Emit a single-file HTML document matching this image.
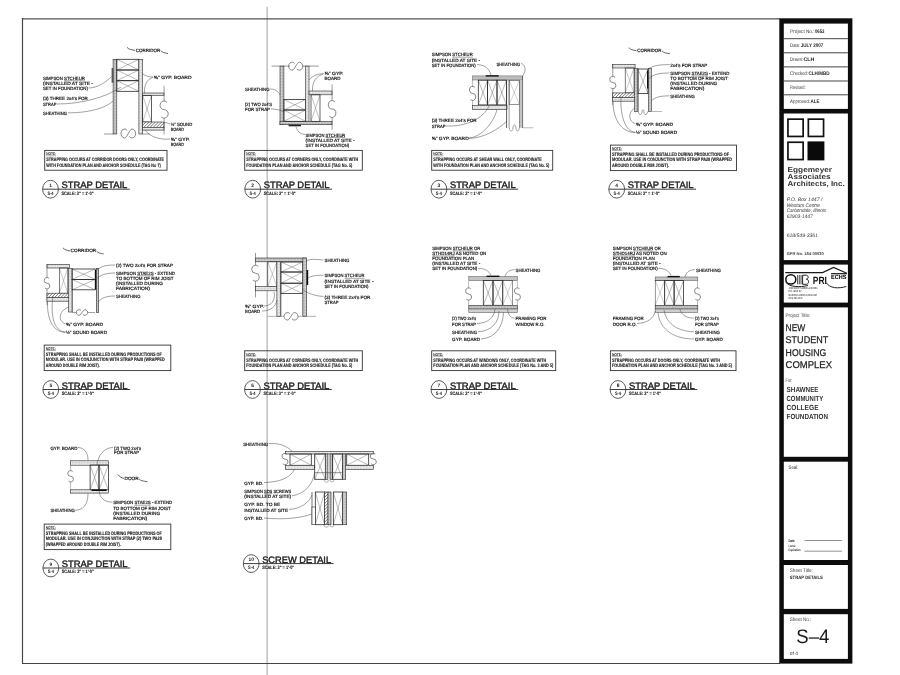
<!DOCTYPE html>
<html><head><meta charset="utf-8"><title>S-4 Strap Details</title>
<style>
html,body{margin:0;padding:0;background:#fff;}
body{width:900px;height:675px;overflow:hidden;font-family:"Liberation Sans",sans-serif;}
svg{display:block;filter:grayscale(1);}
text{font-family:"Liberation Sans",sans-serif;text-rendering:geometricPrecision;}
</style></head><body>
<svg width="900" height="675" viewBox="0 0 900 675">
<defs>
<pattern id="dots" width="1.5" height="1.5" patternUnits="userSpaceOnUse"><rect width="1.5" height="1.5" fill="#f4f4f4"/><rect x="0.2" y="0.2" width="0.9" height="0.9" fill="#6a6a6a"/></pattern>
<pattern id="ldots" width="1.5" height="1.5" patternUnits="userSpaceOnUse"><rect width="1.5" height="1.5" fill="#fafafa"/><rect x="0.2" y="0.2" width="0.8" height="0.8" fill="#a0a0a0"/></pattern>
<pattern id="diag" width="2.2" height="2.2" patternUnits="userSpaceOnUse" patternTransform="rotate(45)"><rect width="2.2" height="2.2" fill="#fff"/><rect width="0.7" height="2.2" fill="#707070"/></pattern>
</defs>
<rect width="900" height="675" fill="#fff"/>
<line x1="267.20" y1="7.00" x2="267.20" y2="675.00" stroke="#c4c4c4" stroke-width="1.6"/>
<line x1="22.00" y1="18.80" x2="780.00" y2="18.80" stroke="#505050" stroke-width="1.35"/>
<line x1="22.50" y1="18.00" x2="22.50" y2="664.00" stroke="#444" stroke-width="1.15"/>
<line x1="22.00" y1="663.50" x2="780.00" y2="663.50" stroke="#444" stroke-width="1.1"/>
<rect x="779.30" y="18.30" width="73.10" height="645.30" fill="#0d0d0d"/>
<rect x="783.80" y="23.60" width="64.10" height="85.30" fill="#fff"/>
<rect x="783.80" y="113.50" width="64.10" height="146.60" fill="#fff"/>
<rect x="783.80" y="264.60" width="64.10" height="38.00" fill="#fff"/>
<rect x="783.80" y="307.40" width="64.10" height="149.40" fill="#fff"/>
<rect x="783.80" y="461.70" width="64.10" height="98.30" fill="#fff"/>
<rect x="783.80" y="565.00" width="64.10" height="43.90" fill="#fff"/>
<rect x="783.80" y="614.20" width="64.10" height="44.70" fill="#fff"/>
<line x1="783.80" y1="38.70" x2="847.90" y2="38.70" stroke="#444" stroke-width="1.0"/>
<line x1="783.80" y1="52.80" x2="847.90" y2="52.80" stroke="#444" stroke-width="1.0"/>
<line x1="783.80" y1="66.90" x2="847.90" y2="66.90" stroke="#444" stroke-width="1.0"/>
<line x1="783.80" y1="81.00" x2="847.90" y2="81.00" stroke="#444" stroke-width="1.0"/>
<line x1="783.80" y1="94.80" x2="847.90" y2="94.80" stroke="#444" stroke-width="1.0"/>
<text x="790.10" y="32.85" font-size="5.2" font-weight="normal" font-style="normal" fill="#3a3a3a" text-anchor="start" textLength="24.50" lengthAdjust="spacingAndGlyphs">Project No.:</text>
<text x="814.90" y="32.85" font-size="5.2" font-weight="bold" font-style="normal" fill="#1e1e1e" text-anchor="start" textLength="9.60" lengthAdjust="spacingAndGlyphs">0653</text>
<text x="790.10" y="47.05" font-size="5.2" font-weight="normal" font-style="normal" fill="#3a3a3a" text-anchor="start" textLength="10.30" lengthAdjust="spacingAndGlyphs">Date:</text>
<text x="800.70" y="47.05" font-size="5.2" font-weight="bold" font-style="normal" fill="#1e1e1e" text-anchor="start" textLength="22.60" lengthAdjust="spacingAndGlyphs">JULY 2007</text>
<text x="790.10" y="61.35" font-size="5.2" font-weight="normal" font-style="normal" fill="#3a3a3a" text-anchor="start" textLength="13.00" lengthAdjust="spacingAndGlyphs">Drawn:</text>
<text x="803.40" y="61.35" font-size="5.2" font-weight="bold" font-style="normal" fill="#1e1e1e" text-anchor="start" textLength="11.00" lengthAdjust="spacingAndGlyphs">CLH</text>
<text x="790.10" y="75.35" font-size="5.2" font-weight="normal" font-style="normal" fill="#3a3a3a" text-anchor="start" textLength="18.00" lengthAdjust="spacingAndGlyphs">Checked:</text>
<text x="808.40" y="75.35" font-size="5.2" font-weight="bold" font-style="normal" fill="#1e1e1e" text-anchor="start" textLength="21.30" lengthAdjust="spacingAndGlyphs">CLH/MBD</text>
<text x="790.10" y="89.25" font-size="5.2" font-weight="normal" font-style="normal" fill="#3a3a3a" text-anchor="start" textLength="15.40" lengthAdjust="spacingAndGlyphs">Revised:</text>
<text x="790.10" y="103.45" font-size="5.2" font-weight="normal" font-style="normal" fill="#3a3a3a" text-anchor="start" textLength="20.00" lengthAdjust="spacingAndGlyphs">Approved:</text>
<text x="810.40" y="103.45" font-size="5.2" font-weight="bold" font-style="normal" fill="#1e1e1e" text-anchor="start" textLength="9.00" lengthAdjust="spacingAndGlyphs">ALE</text>
<rect x="787.95" y="119.15" width="15.20" height="17.30" fill="none" stroke="#111" stroke-width="1.7"/>
<rect x="808.35" y="119.15" width="15.20" height="17.30" fill="none" stroke="#111" stroke-width="1.7"/>
<rect x="787.95" y="142.25" width="15.20" height="17.30" fill="none" stroke="#111" stroke-width="1.7"/>
<rect x="807.50" y="141.40" width="16.90" height="19.00" fill="#0a0a0a"/>
<text x="787.60" y="171.90" font-size="7.3" font-weight="bold" font-style="normal" fill="#333" text-anchor="start" textLength="44.40" lengthAdjust="spacingAndGlyphs">Eggemeyer</text>
<text x="787.60" y="178.60" font-size="7.3" font-weight="bold" font-style="normal" fill="#333" text-anchor="start" textLength="43.00" lengthAdjust="spacingAndGlyphs">Associates</text>
<text x="787.60" y="185.60" font-size="7.3" font-weight="bold" font-style="normal" fill="#333" text-anchor="start" textLength="57.00" lengthAdjust="spacingAndGlyphs">Architects, Inc.</text>
<text x="786.70" y="200.90" font-size="5.0" font-weight="normal" font-style="italic" fill="#333" text-anchor="start" textLength="35.80" lengthAdjust="spacingAndGlyphs">P.O. Box 1447 /</text>
<text x="786.70" y="206.60" font-size="5.0" font-weight="normal" font-style="italic" fill="#333" text-anchor="start" textLength="33.30" lengthAdjust="spacingAndGlyphs">Westam Centre</text>
<text x="786.70" y="211.80" font-size="5.0" font-weight="normal" font-style="italic" fill="#333" text-anchor="start" textLength="39.50" lengthAdjust="spacingAndGlyphs">Carbondale, Illinois</text>
<text x="786.70" y="217.50" font-size="5.0" font-weight="normal" font-style="italic" fill="#333" text-anchor="start" textLength="26.00" lengthAdjust="spacingAndGlyphs">62903-1447</text>
<text x="786.70" y="237.20" font-size="5.0" font-weight="normal" font-style="italic" fill="#333" text-anchor="start" textLength="31.20" lengthAdjust="spacingAndGlyphs">618/549-3361</text>
<text x="786.70" y="255.10" font-size="4.2" font-weight="bold" font-style="normal" fill="#444" text-anchor="start" textLength="37.00" lengthAdjust="spacingAndGlyphs">GPR No.   184-00030</text>
<path d="M785.2 272.6 L822.6 272.6 L833.6 267.4 L846.8 273.3" fill="none" stroke="#1a1a1a" stroke-width="1.1"/>
<ellipse cx="790.8" cy="279.4" rx="5.0" ry="4.6" fill="none" stroke="#111" stroke-width="1.5"/>
<path d="M786 282.5 C789 287 800 287.5 808 285.5" fill="none" stroke="#222" stroke-width="1.0"/>
<line x1="797.60" y1="275.00" x2="797.60" y2="284.30" stroke="#222" stroke-width="0.8"/>
<line x1="799.30" y1="275.00" x2="799.30" y2="284.30" stroke="#222" stroke-width="0.8"/>
<line x1="801.00" y1="275.00" x2="801.00" y2="284.30" stroke="#222" stroke-width="0.8"/>
<path d="M802.6 284.3 L802.6 275.2 L806.3 275.2 C808.8 275.2 808.8 279.2 806.3 279.2 C809.3 279.2 809.3 284.3 806.3 284.3 Z" fill="none" stroke="#222" stroke-width="1.0"/>
<text x="812.80" y="284.00" font-size="10.5" font-weight="bold" font-style="normal" fill="#111" text-anchor="start" textLength="14.20" lengthAdjust="spacingAndGlyphs">PRI</text>
<path d="M826 282.5 C830 288.5 838 288.8 846.3 286.5" fill="none" stroke="#222" stroke-width="1.0"/>
<line x1="831.00" y1="273.70" x2="846.80" y2="273.70" stroke="#111" stroke-width="1.2"/>
<text x="831.00" y="279.40" font-size="6.0" font-weight="bold" font-style="normal" fill="#000" text-anchor="start" textLength="15.50" lengthAdjust="spacingAndGlyphs">ECHS</text>
<text x="788.50" y="289.20" font-size="2.9" font-weight="bold" font-style="normal" fill="#555" text-anchor="start" textLength="29.00" lengthAdjust="spacingAndGlyphs">JOHN MOODY PLUMBING &amp; HEATING</text>
<text x="788.50" y="292.35" font-size="2.9" font-weight="bold" font-style="normal" fill="#555" text-anchor="start" textLength="13.00" lengthAdjust="spacingAndGlyphs">P.O. BOX 87</text>
<text x="788.50" y="295.50" font-size="2.9" font-weight="bold" font-style="normal" fill="#555" text-anchor="start" textLength="28.50" lengthAdjust="spacingAndGlyphs">MARION ILLINOIS 62959-0087</text>
<text x="788.50" y="298.65" font-size="2.9" font-weight="bold" font-style="normal" fill="#555" text-anchor="start" textLength="13.90" lengthAdjust="spacingAndGlyphs">(618) 997-0440</text>
<text x="785.40" y="317.40" font-size="5.2" font-weight="normal" font-style="normal" fill="#444" text-anchor="start" textLength="25.00" lengthAdjust="spacingAndGlyphs">Project Title:</text>
<text x="785.6" y="331.30" font-size="9.8" fill="#1e1e1e" stroke="#1e1e1e" stroke-width="0.25" textLength="19.7" lengthAdjust="spacingAndGlyphs">NEW</text>
<text x="785.6" y="343.45" font-size="9.8" fill="#1e1e1e" stroke="#1e1e1e" stroke-width="0.25" textLength="42.6" lengthAdjust="spacingAndGlyphs">STUDENT</text>
<text x="785.6" y="355.60" font-size="9.8" fill="#1e1e1e" stroke="#1e1e1e" stroke-width="0.25" textLength="40.6" lengthAdjust="spacingAndGlyphs">HOUSING</text>
<text x="785.6" y="367.75" font-size="9.8" fill="#1e1e1e" stroke="#1e1e1e" stroke-width="0.25" textLength="46.4" lengthAdjust="spacingAndGlyphs">COMPLEX</text>
<text x="785.60" y="382.40" font-size="5.2" font-weight="normal" font-style="normal" fill="#444" text-anchor="start" textLength="6.70" lengthAdjust="spacingAndGlyphs">For:</text>
<text x="786.60" y="391.70" font-size="7.4" font-weight="bold" font-style="normal" fill="#333" text-anchor="start" textLength="32.00" lengthAdjust="spacingAndGlyphs">SHAWNEE</text>
<text x="786.60" y="400.80" font-size="7.4" font-weight="bold" font-style="normal" fill="#333" text-anchor="start" textLength="36.50" lengthAdjust="spacingAndGlyphs">COMMUNITY</text>
<text x="786.60" y="409.90" font-size="7.4" font-weight="bold" font-style="normal" fill="#333" text-anchor="start" textLength="32.00" lengthAdjust="spacingAndGlyphs">COLLEGE</text>
<text x="786.60" y="419.00" font-size="7.4" font-weight="bold" font-style="normal" fill="#333" text-anchor="start" textLength="41.40" lengthAdjust="spacingAndGlyphs">FOUNDATION</text>
<text x="788.60" y="468.60" font-size="5.2" font-weight="normal" font-style="normal" fill="#333" text-anchor="start" textLength="9.60" lengthAdjust="spacingAndGlyphs">Seal:</text>
<text x="788.50" y="541.60" font-size="3.6" font-weight="bold" font-style="normal" fill="#222" text-anchor="start" textLength="6.00" lengthAdjust="spacingAndGlyphs">Date</text>
<line x1="804.50" y1="540.50" x2="842.00" y2="540.50" stroke="#777" stroke-width="0.8"/>
<text x="788.50" y="547.30" font-size="3.3" font-weight="bold" font-style="normal" fill="#222" text-anchor="start" textLength="7.00" lengthAdjust="spacingAndGlyphs">License</text>
<text x="788.50" y="551.00" font-size="3.3" font-weight="bold" font-style="normal" fill="#222" text-anchor="start" textLength="12.00" lengthAdjust="spacingAndGlyphs">Expiration</text>
<line x1="804.50" y1="551.20" x2="842.00" y2="551.20" stroke="#777" stroke-width="0.8"/>
<text x="789.80" y="571.60" font-size="5.2" font-weight="normal" font-style="normal" fill="#444" text-anchor="start" textLength="23.00" lengthAdjust="spacingAndGlyphs">Sheet Title:</text>
<text x="789.80" y="579.10" font-size="4.8" font-weight="bold" font-style="normal" fill="#222" text-anchor="start" textLength="33.00" lengthAdjust="spacingAndGlyphs">STRAP DETAILS</text>
<text x="789.80" y="621.30" font-size="5.2" font-weight="normal" font-style="normal" fill="#444" text-anchor="start" textLength="21.50" lengthAdjust="spacingAndGlyphs">Sheet No.:</text>
<text x="796.30" y="642.60" font-size="19.5" font-weight="normal" font-style="normal" fill="#1a1a1a" text-anchor="start" textLength="33.00" lengthAdjust="spacingAndGlyphs">S–4</text>
<text x="789.80" y="654.60" font-size="5.0" font-weight="normal" font-style="normal" fill="#333" text-anchor="start" textLength="8.20" lengthAdjust="spacingAndGlyphs">of 4</text>
<text x="135.80" y="51.54" font-size="4.7" font-weight="normal" font-style="normal" fill="#111" text-anchor="start" textLength="24.60" lengthAdjust="spacingAndGlyphs" stroke="#111" stroke-width="0.18">CORRIDOR</text>
<path d="M127 47.3 C129 49.8 131.0 49.4 135 50.4" fill="none" stroke="#333" stroke-width="0.75"/>
<path d="M160.6 50.4 C162.6 52.9 164.3 52.6 168 53.6" fill="none" stroke="#333" stroke-width="0.75"/>
<rect x="113.10" y="59.30" width="3.70" height="74.70" fill="url(#dots)" stroke="#2a2a2a" stroke-width="0.6"/>
<path d="M116.80 59.30L138.90 70.00M138.90 59.30L116.80 70.00" stroke="#666" stroke-width="0.45" fill="none"/>
<rect x="116.80" y="59.30" width="22.10" height="10.70" fill="none" stroke="#2a2a2a" stroke-width="0.8"/>
<path d="M116.80 70.00L138.90 80.70M138.90 70.00L116.80 80.70" stroke="#666" stroke-width="0.45" fill="none"/>
<rect x="116.80" y="70.00" width="22.10" height="10.70" fill="none" stroke="#2a2a2a" stroke-width="0.8"/>
<path d="M116.80 80.70L138.90 91.30M138.90 80.70L116.80 91.30" stroke="#666" stroke-width="0.45" fill="none"/>
<rect x="116.80" y="80.70" width="22.10" height="10.60" fill="none" stroke="#2a2a2a" stroke-width="0.8"/>
<rect x="138.90" y="59.30" width="3.80" height="74.70" fill="url(#ldots)" stroke="#2a2a2a" stroke-width="0.6"/>
<rect x="111.60" y="68.00" width="1.90" height="14.70" fill="#555"/>
<rect x="142.70" y="93.00" width="21.30" height="2.40" fill="url(#ldots)" stroke="#2a2a2a" stroke-width="0.6"/>
<path d="M142.70 95.40L151.50 122.00M151.50 95.40L142.70 122.00" stroke="#777" stroke-width="0.45" fill="none"/>
<rect x="142.70" y="95.40" width="8.80" height="26.60" fill="none" stroke="#2a2a2a" stroke-width="0.7"/>
<line x1="151.50" y1="95.40" x2="151.50" y2="122.00" stroke="#555" stroke-width="0.6"/>
<rect x="142.70" y="122.00" width="21.30" height="5.30" fill="url(#diag)" stroke="#2a2a2a" stroke-width="0.6"/>
<rect x="142.70" y="127.30" width="21.30" height="2.80" fill="url(#ldots)" stroke="#2a2a2a" stroke-width="0.6"/>
<line x1="164.10" y1="86.00" x2="164.10" y2="101.00" stroke="#555" stroke-width="0.6"/>
<line x1="164.10" y1="118.20" x2="164.10" y2="134.50" stroke="#555" stroke-width="0.6"/>
<path d="M167.00 102.26 A4.10 4.30 0 0 0 160.00 105.30 A4.10 4.30 0 0 0 164.10 109.60 A4.10 4.30 0 0 1 168.20 113.90 A4.10 4.30 0 0 1 161.20 116.94" fill="none" stroke="#555" stroke-width="0.7"/>
<line x1="104.00" y1="134.00" x2="113.10" y2="134.00" stroke="#555" stroke-width="0.6"/>
<line x1="142.70" y1="134.00" x2="150.00" y2="134.00" stroke="#666" stroke-width="0.6"/>
<path d="M127.22 130.32 A3.67 4.50 0 1 0 124.63 138.00 C127.20 138.00 129.40 129.00 131.98 129.00 A3.67 4.50 0 1 1 129.38 136.68" fill="none" stroke="#555" stroke-width="0.7"/>
<text x="42.90" y="79.94" font-size="4.7" font-weight="normal" font-style="normal" fill="#111" text-anchor="start" textLength="42.00" lengthAdjust="spacingAndGlyphs" stroke="#111" stroke-width="0.18">SIMPSON STCHEUR</text>
<line x1="64.02" y1="80.79" x2="84.90" y2="80.79" stroke="#333" stroke-width="0.45"/>
<text x="42.90" y="84.94" font-size="4.7" font-weight="normal" font-style="normal" fill="#111" text-anchor="start" textLength="50.00" lengthAdjust="spacingAndGlyphs" stroke="#111" stroke-width="0.18">(INSTALLED AT SITE -</text>
<text x="42.90" y="89.94" font-size="4.7" font-weight="normal" font-style="normal" fill="#111" text-anchor="start" textLength="45.00" lengthAdjust="spacingAndGlyphs" stroke="#111" stroke-width="0.18">SET IN FOUNDATION)</text>
<path d="M88.5 88 C98 88 106 82 111.5 76.5" fill="none" stroke="#444" stroke-width="0.5"/>
<text x="42.90" y="100.34" font-size="4.7" font-weight="normal" font-style="normal" fill="#111" text-anchor="start" textLength="45.00" lengthAdjust="spacingAndGlyphs" stroke="#111" stroke-width="0.18">(3) THREE 2x4's FOR</text>
<text x="42.90" y="105.94" font-size="4.7" font-weight="normal" font-style="normal" fill="#111" text-anchor="start" textLength="13.50" lengthAdjust="spacingAndGlyphs" stroke="#111" stroke-width="0.18">STRAP</text>
<path d="M57 104 C80 104 105 98 121 87" fill="none" stroke="#444" stroke-width="0.5"/>
<text x="42.90" y="114.94" font-size="4.7" font-weight="normal" font-style="normal" fill="#111" text-anchor="start" textLength="24.00" lengthAdjust="spacingAndGlyphs" stroke="#111" stroke-width="0.18">SHEATHING</text>
<path d="M68 112.8 C88 113 106 108 113 101" fill="none" stroke="#444" stroke-width="0.5"/>
<text x="153.80" y="79.04" font-size="4.7" font-weight="normal" font-style="normal" fill="#111" text-anchor="start" textLength="37.80" lengthAdjust="spacingAndGlyphs" stroke="#111" stroke-width="0.18">⅝" GYP. BOARD</text>
<path d="M153 77 C149 77 146 76 142.7 74" fill="none" stroke="#444" stroke-width="0.5"/>
<path d="M153 77.5 C147 79 144 85 144.5 93" fill="none" stroke="#444" stroke-width="0.5"/>
<text x="170.80" y="126.14" font-size="4.7" font-weight="normal" font-style="normal" fill="#111" text-anchor="start" textLength="21.40" lengthAdjust="spacingAndGlyphs" stroke="#111" stroke-width="0.18">½" SOUND</text>
<text x="170.80" y="131.14" font-size="4.7" font-weight="normal" font-style="normal" fill="#111" text-anchor="start" textLength="13.00" lengthAdjust="spacingAndGlyphs" stroke="#111" stroke-width="0.18">BOARD</text>
<path d="M170 124 C168 123 166 122.5 164 122.5" fill="none" stroke="#444" stroke-width="0.5"/>
<text x="170.80" y="140.84" font-size="4.7" font-weight="normal" font-style="normal" fill="#111" text-anchor="start" textLength="19.00" lengthAdjust="spacingAndGlyphs" stroke="#111" stroke-width="0.18">⅝" GYP.</text>
<text x="170.80" y="145.74" font-size="4.7" font-weight="normal" font-style="normal" fill="#111" text-anchor="start" textLength="13.00" lengthAdjust="spacingAndGlyphs" stroke="#111" stroke-width="0.18">BOARD</text>
<path d="M170 139 C160 140 150 137 145 130" fill="none" stroke="#444" stroke-width="0.5"/>
<rect x="44.70" y="150.40" width="122.30" height="19.80" fill="none" stroke="#333" stroke-width="0.9"/>
<text x="46.30" y="155.20" font-size="4.0" font-weight="bold" font-style="normal" fill="#1a1a1a" text-anchor="start" textLength="10.00" lengthAdjust="spacingAndGlyphs">NOTE:</text>
<line x1="46.30" y1="155.80" x2="56.30" y2="155.80" stroke="#333" stroke-width="0.4"/>
<text x="46.30" y="161.35" font-size="5.0" font-weight="bold" font-style="normal" fill="#1a1a1a" text-anchor="start" textLength="117.80" lengthAdjust="spacingAndGlyphs" stroke="#1a1a1a" stroke-width="0.12">STRAPPING OCCURS AT CORRIDOR DOORS ONLY, COORDINATE</text>
<text x="46.30" y="166.70" font-size="5.0" font-weight="bold" font-style="normal" fill="#1a1a1a" text-anchor="start" textLength="114.40" lengthAdjust="spacingAndGlyphs" stroke="#1a1a1a" stroke-width="0.12">WITH FOUNDATION PLAN AND ANCHOR SCHEDULE (TAG No 7)</text>
<ellipse cx="50.50" cy="189.20" rx="7.9" ry="8.9" fill="none" stroke="#333" stroke-width="0.8"/>
<line x1="42.60" y1="189.20" x2="129.80" y2="189.20" stroke="#2a2a2a" stroke-width="0.9"/>
<text x="50.50" y="186.90" font-size="4.9" font-weight="bold" font-style="normal" fill="#222" text-anchor="middle">1</text>
<text x="50.50" y="194.60" font-size="4.9" font-weight="bold" font-style="normal" fill="#222" text-anchor="middle" textLength="6.20" lengthAdjust="spacingAndGlyphs">S-4</text>
<text x="61.50" y="188.30" font-size="9.35" fill="#1e1e1e" stroke="#1e1e1e" stroke-width="0.4" textLength="65.80" lengthAdjust="spacingAndGlyphs">STRAP DETAIL</text>
<text x="61.50" y="194.50" font-size="4.8" font-weight="bold" font-style="normal" fill="#222" text-anchor="start" textLength="32.00" lengthAdjust="spacingAndGlyphs" stroke="#222" stroke-width="0.12">SCALE: 3" = 1'-0"</text>
<line x1="271.60" y1="66.10" x2="290.00" y2="66.10" stroke="#555" stroke-width="0.6"/>
<line x1="302.00" y1="66.10" x2="318.80" y2="66.10" stroke="#555" stroke-width="0.6"/>
<path d="M294.66 63.37 A3.55 4.00 0 1 0 292.15 70.20 C294.63 70.20 296.76 62.20 299.25 62.20 A3.55 4.00 0 1 1 296.74 69.03" fill="none" stroke="#555" stroke-width="0.7"/>
<rect x="280.00" y="66.10" width="3.90" height="58.60" fill="url(#dots)" stroke="#2a2a2a" stroke-width="0.6"/>
<rect x="280.00" y="121.30" width="52.00" height="3.40" fill="url(#dots)" stroke="#2a2a2a" stroke-width="0.6"/>
<path d="M283.90 99.50L305.60 110.00M305.60 99.50L283.90 110.00" stroke="#666" stroke-width="0.45" fill="none"/>
<rect x="283.90" y="99.50" width="21.70" height="10.50" fill="none" stroke="#2a2a2a" stroke-width="0.8"/>
<path d="M283.90 110.00L305.60 121.30M305.60 110.00L283.90 121.30" stroke="#666" stroke-width="0.45" fill="none"/>
<rect x="283.90" y="110.00" width="21.70" height="11.30" fill="none" stroke="#2a2a2a" stroke-width="0.8"/>
<rect x="305.60" y="66.10" width="3.40" height="55.20" fill="url(#ldots)" stroke="#2a2a2a" stroke-width="0.6"/>
<rect x="309.00" y="91.00" width="23.00" height="3.80" fill="url(#ldots)" stroke="#2a2a2a" stroke-width="0.6"/>
<path d="M311.00 94.80L320.00 121.30M320.00 94.80L311.00 121.30" stroke="#777" stroke-width="0.45" fill="none"/>
<rect x="311.00" y="94.80" width="9.00" height="26.50" fill="none" stroke="#2a2a2a" stroke-width="0.7"/>
<line x1="332.10" y1="84.40" x2="332.10" y2="100.50" stroke="#555" stroke-width="0.6"/>
<line x1="332.10" y1="117.50" x2="332.10" y2="129.80" stroke="#555" stroke-width="0.6"/>
<path d="M334.79 101.75 A3.80 4.25 0 0 0 328.30 104.75 A3.80 4.25 0 0 0 332.10 109.00 A3.80 4.25 0 0 1 335.90 113.25 A3.80 4.25 0 0 1 329.41 116.25" fill="none" stroke="#555" stroke-width="0.7"/>
<rect x="288.60" y="124.70" width="12.40" height="1.60" fill="#222"/>
<text x="245.00" y="90.94" font-size="4.7" font-weight="normal" font-style="normal" fill="#111" text-anchor="start" textLength="24.50" lengthAdjust="spacingAndGlyphs" stroke="#111" stroke-width="0.18">SHEATHING</text>
<path d="M270 89 C275 89 278 91 280 95" fill="none" stroke="#444" stroke-width="0.5"/>
<text x="245.00" y="106.14" font-size="4.7" font-weight="normal" font-style="normal" fill="#111" text-anchor="start" textLength="27.00" lengthAdjust="spacingAndGlyphs" stroke="#111" stroke-width="0.18">(2) TWO 2x4'S</text>
<text x="245.00" y="111.14" font-size="4.7" font-weight="normal" font-style="normal" fill="#111" text-anchor="start" textLength="25.00" lengthAdjust="spacingAndGlyphs" stroke="#111" stroke-width="0.18">FOR STRAP</text>
<path d="M271 109 C276 109 280 110 285 112" fill="none" stroke="#444" stroke-width="0.5"/>
<text x="324.50" y="75.14" font-size="4.7" font-weight="normal" font-style="normal" fill="#111" text-anchor="start" textLength="19.00" lengthAdjust="spacingAndGlyphs" stroke="#111" stroke-width="0.18">⅝" GYP.</text>
<text x="324.50" y="79.74" font-size="4.7" font-weight="normal" font-style="normal" fill="#111" text-anchor="start" textLength="16.00" lengthAdjust="spacingAndGlyphs" stroke="#111" stroke-width="0.18">BOARD</text>
<path d="M323.5 73.5 C316 74 311 77 309.2 80" fill="none" stroke="#444" stroke-width="0.5"/>
<path d="M323.5 74 C316 76 312 82 312.5 91" fill="none" stroke="#444" stroke-width="0.5"/>
<text x="305.60" y="136.64" font-size="4.7" font-weight="normal" font-style="normal" fill="#111" text-anchor="start" textLength="39.70" lengthAdjust="spacingAndGlyphs" stroke="#111" stroke-width="0.18">SIMPSON STCHEUR</text>
<line x1="325.56" y1="137.49" x2="345.30" y2="137.49" stroke="#333" stroke-width="0.45"/>
<text x="305.60" y="141.84" font-size="4.7" font-weight="normal" font-style="normal" fill="#111" text-anchor="start" textLength="49.00" lengthAdjust="spacingAndGlyphs" stroke="#111" stroke-width="0.18">(INSTALLED AT SITE -</text>
<text x="305.60" y="147.04" font-size="4.7" font-weight="normal" font-style="normal" fill="#111" text-anchor="start" textLength="43.50" lengthAdjust="spacingAndGlyphs" stroke="#111" stroke-width="0.18">SET IN FOUNDATION)</text>
<path d="M305 134.5 C299 134 297 130 296 126.5" fill="none" stroke="#444" stroke-width="0.5"/>
<rect x="244.70" y="150.40" width="117.60" height="19.80" fill="none" stroke="#333" stroke-width="0.9"/>
<text x="246.30" y="155.20" font-size="4.0" font-weight="bold" font-style="normal" fill="#1a1a1a" text-anchor="start" textLength="10.00" lengthAdjust="spacingAndGlyphs">NOTE:</text>
<line x1="246.30" y1="155.80" x2="256.30" y2="155.80" stroke="#333" stroke-width="0.4"/>
<text x="246.30" y="161.35" font-size="5.0" font-weight="bold" font-style="normal" fill="#1a1a1a" text-anchor="start" textLength="112.00" lengthAdjust="spacingAndGlyphs" stroke="#1a1a1a" stroke-width="0.12">STRAPPING OCCURS AT CORNERS ONLY, COORDINATE WITH</text>
<text x="246.30" y="166.70" font-size="5.0" font-weight="bold" font-style="normal" fill="#1a1a1a" text-anchor="start" textLength="106.00" lengthAdjust="spacingAndGlyphs" stroke="#1a1a1a" stroke-width="0.12">FOUNDATION PLAN AND ANCHOR SCHEDULE (TAG No. 5)</text>
<ellipse cx="252.70" cy="189.20" rx="7.9" ry="8.9" fill="none" stroke="#333" stroke-width="0.8"/>
<line x1="244.80" y1="189.20" x2="332.00" y2="189.20" stroke="#2a2a2a" stroke-width="0.9"/>
<text x="252.70" y="186.90" font-size="4.9" font-weight="bold" font-style="normal" fill="#222" text-anchor="middle">2</text>
<text x="252.70" y="194.60" font-size="4.9" font-weight="bold" font-style="normal" fill="#222" text-anchor="middle" textLength="6.20" lengthAdjust="spacingAndGlyphs">S-4</text>
<text x="263.70" y="188.30" font-size="9.35" fill="#1e1e1e" stroke="#1e1e1e" stroke-width="0.4" textLength="65.80" lengthAdjust="spacingAndGlyphs">STRAP DETAIL</text>
<text x="263.70" y="194.50" font-size="4.8" font-weight="bold" font-style="normal" fill="#222" text-anchor="start" textLength="32.00" lengthAdjust="spacingAndGlyphs" stroke="#222" stroke-width="0.12">SCALE: 3" = 1'-0"</text>
<rect x="472.30" y="75.90" width="50.30" height="4.10" fill="#bdbdbd"/>
<rect x="472.30" y="75.90" width="50.30" height="4.10" fill="none" stroke="#666" stroke-width="0.5"/>
<rect x="485.70" y="75.20" width="13.00" height="1.40" fill="#111"/>
<path d="M478.30 80.20L487.60 104.90M487.60 80.20L478.30 104.90" stroke="#666" stroke-width="0.45" fill="none"/>
<rect x="478.30" y="80.20" width="9.30" height="24.70" fill="none" stroke="#2a2a2a" stroke-width="0.8"/>
<path d="M487.60 80.20L497.00 104.90M497.00 80.20L487.60 104.90" stroke="#666" stroke-width="0.45" fill="none"/>
<rect x="487.60" y="80.20" width="9.40" height="24.70" fill="none" stroke="#2a2a2a" stroke-width="0.8"/>
<path d="M497.00 80.20L506.50 104.90M506.50 80.20L497.00 104.90" stroke="#666" stroke-width="0.45" fill="none"/>
<rect x="497.00" y="80.20" width="9.50" height="24.70" fill="none" stroke="#2a2a2a" stroke-width="0.8"/>
<rect x="472.30" y="105.30" width="34.70" height="4.20" fill="url(#ldots)" stroke="#2a2a2a" stroke-width="0.6"/>
<line x1="472.60" y1="80.00" x2="472.60" y2="86.30" stroke="#777" stroke-width="0.5"/>
<line x1="472.60" y1="100.50" x2="472.60" y2="105.30" stroke="#777" stroke-width="0.5"/>
<path d="M474.83 87.34 A3.15 3.55 0 0 0 469.45 89.85 A3.15 3.55 0 0 0 472.60 93.40 A3.15 3.55 0 0 1 475.75 96.95 A3.15 3.55 0 0 1 470.37 99.46" fill="none" stroke="#555" stroke-width="0.7"/>
<line x1="506.60" y1="80.00" x2="506.60" y2="128.00" stroke="#333" stroke-width="0.8"/>
<line x1="509.10" y1="80.00" x2="509.10" y2="128.00" stroke="#555" stroke-width="0.6"/>
<path d="M509.10 80.20L519.50 104.70M519.50 80.20L509.10 104.70" stroke="#999" stroke-width="0.45" fill="none"/>
<rect x="509.10" y="80.20" width="10.40" height="24.50" fill="none" stroke="#2a2a2a" stroke-width="0.5"/>
<rect x="519.50" y="80.00" width="3.10" height="47.80" fill="#c4c4c4"/>
<line x1="519.50" y1="80.00" x2="519.50" y2="128.00" stroke="#555" stroke-width="0.6"/>
<line x1="522.60" y1="76.00" x2="522.60" y2="128.00" stroke="#444" stroke-width="0.7"/>
<path d="M509.5 128 C509.5 132 513 132 513 128 C513 124 516 124 516 128 C516 132 519.2 132 519.2 128" fill="none" stroke="#666" stroke-width="0.6"/>
<line x1="522.60" y1="127.80" x2="533.50" y2="127.80" stroke="#888" stroke-width="0.6"/>
<text x="431.70" y="56.34" font-size="4.7" font-weight="normal" font-style="normal" fill="#111" text-anchor="start" textLength="41.00" lengthAdjust="spacingAndGlyphs" stroke="#111" stroke-width="0.18">SIMPSON STCHEUR</text>
<line x1="452.32" y1="57.19" x2="472.70" y2="57.19" stroke="#333" stroke-width="0.45"/>
<text x="431.70" y="61.54" font-size="4.7" font-weight="normal" font-style="normal" fill="#111" text-anchor="start" textLength="48.40" lengthAdjust="spacingAndGlyphs" stroke="#111" stroke-width="0.18">(INSTALLED AT SITE -</text>
<text x="431.70" y="66.74" font-size="4.7" font-weight="normal" font-style="normal" fill="#111" text-anchor="start" textLength="44.00" lengthAdjust="spacingAndGlyphs" stroke="#111" stroke-width="0.18">SET IN FOUNDATION)</text>
<path d="M477 64.6 C484 64.6 489 68 491 75" fill="none" stroke="#444" stroke-width="0.5"/>
<text x="496.60" y="65.74" font-size="4.7" font-weight="normal" font-style="normal" fill="#111" text-anchor="start" textLength="23.60" lengthAdjust="spacingAndGlyphs" stroke="#111" stroke-width="0.18">SHEATHING</text>
<path d="M521 63.6 C525 64 527 70 522.5 76" fill="none" stroke="#444" stroke-width="0.5"/>
<text x="431.70" y="122.44" font-size="4.7" font-weight="normal" font-style="normal" fill="#111" text-anchor="start" textLength="45.00" lengthAdjust="spacingAndGlyphs" stroke="#111" stroke-width="0.18">(3) THREE 2x4's FOR</text>
<text x="431.70" y="128.04" font-size="4.7" font-weight="normal" font-style="normal" fill="#111" text-anchor="start" textLength="13.80" lengthAdjust="spacingAndGlyphs" stroke="#111" stroke-width="0.18">STRAP</text>
<path d="M446 126 C466 127 484 118 489 106" fill="none" stroke="#444" stroke-width="0.5"/>
<text x="431.70" y="140.04" font-size="4.7" font-weight="normal" font-style="normal" fill="#111" text-anchor="start" textLength="37.00" lengthAdjust="spacingAndGlyphs" stroke="#111" stroke-width="0.18">⅝" GYP. BOARD</text>
<path d="M469 138 C482 137 494 122 497 109.5" fill="none" stroke="#444" stroke-width="0.5"/>
<path d="M469 138.5 C485 138 500 128 507 121" fill="none" stroke="#444" stroke-width="0.5"/>
<rect x="431.70" y="150.40" width="121.00" height="19.80" fill="none" stroke="#333" stroke-width="0.9"/>
<text x="433.30" y="155.20" font-size="4.0" font-weight="bold" font-style="normal" fill="#1a1a1a" text-anchor="start" textLength="10.00" lengthAdjust="spacingAndGlyphs">NOTE:</text>
<line x1="433.30" y1="155.80" x2="443.30" y2="155.80" stroke="#333" stroke-width="0.4"/>
<text x="433.30" y="161.35" font-size="5.0" font-weight="bold" font-style="normal" fill="#1a1a1a" text-anchor="start" textLength="108.40" lengthAdjust="spacingAndGlyphs" stroke="#1a1a1a" stroke-width="0.12">STRAPPING OCCURS AT SHEAR WALL ONLY, COORDINATE</text>
<text x="433.30" y="166.70" font-size="5.0" font-weight="bold" font-style="normal" fill="#1a1a1a" text-anchor="start" textLength="116.00" lengthAdjust="spacingAndGlyphs" stroke="#1a1a1a" stroke-width="0.12">WITH FOUNDATION PLAN AND ANCHOR SCHEDULE (TAG No. 5)</text>
<ellipse cx="438.90" cy="189.20" rx="7.9" ry="8.9" fill="none" stroke="#333" stroke-width="0.8"/>
<line x1="431.00" y1="189.20" x2="518.20" y2="189.20" stroke="#2a2a2a" stroke-width="0.9"/>
<text x="438.90" y="186.90" font-size="4.9" font-weight="bold" font-style="normal" fill="#222" text-anchor="middle">3</text>
<text x="438.90" y="194.60" font-size="4.9" font-weight="bold" font-style="normal" fill="#222" text-anchor="middle" textLength="6.20" lengthAdjust="spacingAndGlyphs">S-4</text>
<text x="449.90" y="188.30" font-size="9.35" fill="#1e1e1e" stroke="#1e1e1e" stroke-width="0.4" textLength="65.80" lengthAdjust="spacingAndGlyphs">STRAP DETAIL</text>
<text x="449.90" y="194.50" font-size="4.8" font-weight="bold" font-style="normal" fill="#222" text-anchor="start" textLength="32.00" lengthAdjust="spacingAndGlyphs" stroke="#222" stroke-width="0.12">SCALE: 3" = 1'-0"</text>
<text x="637.30" y="52.14" font-size="4.7" font-weight="normal" font-style="normal" fill="#111" text-anchor="start" textLength="24.20" lengthAdjust="spacingAndGlyphs" stroke="#111" stroke-width="0.18">CORRIDOR</text>
<path d="M628.8 47.5 C630.8 50.0 632.65 49.8 636.5 50.8" fill="none" stroke="#333" stroke-width="0.75"/>
<path d="M662 50.8 C664 53.3 666.0 52.8 670 53.8" fill="none" stroke="#333" stroke-width="0.75"/>
<rect x="612.50" y="64.30" width="22.60" height="3.70" fill="url(#ldots)" stroke="#2a2a2a" stroke-width="0.6"/>
<line x1="612.80" y1="64.30" x2="612.80" y2="76.30" stroke="#555" stroke-width="0.6"/>
<line x1="612.80" y1="88.70" x2="612.80" y2="105.00" stroke="#555" stroke-width="0.6"/>
<path d="M625.20 68.00L634.00 92.90M634.00 68.00L625.20 92.90" stroke="#888" stroke-width="0.45" fill="none"/>
<rect x="625.20" y="68.00" width="8.80" height="24.90" fill="none" stroke="#2a2a2a" stroke-width="0.6"/>
<rect x="612.50" y="92.90" width="22.60" height="4.60" fill="url(#diag)" stroke="#2a2a2a" stroke-width="0.6"/>
<rect x="612.50" y="97.50" width="22.60" height="3.70" fill="url(#ldots)" stroke="#2a2a2a" stroke-width="0.6"/>
<path d="M614.99 77.21 A3.10 3.10 0 0 0 609.70 79.40 A3.10 3.10 0 0 0 612.80 82.50 A3.10 3.10 0 0 1 615.90 85.60 A3.10 3.10 0 0 1 610.61 87.79" fill="none" stroke="#555" stroke-width="0.7"/>
<rect x="634.60" y="68.50" width="3.40" height="43.00" fill="url(#dots)" stroke="#2a2a2a" stroke-width="0.6"/>
<path d="M638.00 69.00L648.00 93.60M648.00 69.00L638.00 93.60" stroke="#666" stroke-width="0.45" fill="none"/>
<rect x="638.00" y="69.00" width="10.00" height="24.60" fill="none" stroke="#2a2a2a" stroke-width="0.8"/>
<line x1="638.00" y1="93.60" x2="638.00" y2="111.50" stroke="#555" stroke-width="0.6"/>
<rect x="647.00" y="70.60" width="1.60" height="18.00" fill="#111"/>
<rect x="648.50" y="68.50" width="2.80" height="43.00" fill="url(#dots)" stroke="#2a2a2a" stroke-width="0.6"/>
<path d="M638.5 111.5 C638.5 115.5 642 115.5 642 112 C642 109 644 109 644 112 C644 115.5 647.5 115.5 647.5 111.5" fill="none" stroke="#666" stroke-width="0.6"/>
<line x1="651.30" y1="111.50" x2="662.00" y2="111.50" stroke="#888" stroke-width="0.6"/>
<text x="670.30" y="66.74" font-size="4.7" font-weight="normal" font-style="normal" fill="#111" text-anchor="start" textLength="37.00" lengthAdjust="spacingAndGlyphs" stroke="#111" stroke-width="0.18">2x4's FOR STRAP</text>
<path d="M669.5 64.6 C662 64.6 654 65 648 69" fill="none" stroke="#444" stroke-width="0.5"/>
<text x="670.30" y="75.14" font-size="4.7" font-weight="normal" font-style="normal" fill="#111" text-anchor="start" textLength="59.00" lengthAdjust="spacingAndGlyphs" stroke="#111" stroke-width="0.18">SIMPSON STAE2S - EXTEND</text>
<line x1="691.43" y1="75.99" x2="707.93" y2="75.99" stroke="#333" stroke-width="0.45"/>
<text x="670.30" y="80.14" font-size="4.7" font-weight="normal" font-style="normal" fill="#111" text-anchor="start" textLength="57.50" lengthAdjust="spacingAndGlyphs" stroke="#111" stroke-width="0.18">TO BOTTOM OF RIM JOIST</text>
<text x="670.30" y="85.14" font-size="4.7" font-weight="normal" font-style="normal" fill="#111" text-anchor="start" textLength="47.00" lengthAdjust="spacingAndGlyphs" stroke="#111" stroke-width="0.18">(INSTALLED DURING</text>
<text x="670.30" y="90.14" font-size="4.7" font-weight="normal" font-style="normal" fill="#111" text-anchor="start" textLength="34.00" lengthAdjust="spacingAndGlyphs" stroke="#111" stroke-width="0.18">FABRICATION)</text>
<path d="M669.5 73 C660 73 653 74 648.5 79" fill="none" stroke="#444" stroke-width="0.5"/>
<text x="670.30" y="97.94" font-size="4.7" font-weight="normal" font-style="normal" fill="#111" text-anchor="start" textLength="24.50" lengthAdjust="spacingAndGlyphs" stroke="#111" stroke-width="0.18">SHEATHING</text>
<path d="M669.5 95.8 C660 96 655 97 651.3 101" fill="none" stroke="#444" stroke-width="0.5"/>
<text x="636.00" y="125.74" font-size="4.7" font-weight="normal" font-style="normal" fill="#111" text-anchor="start" textLength="37.00" lengthAdjust="spacingAndGlyphs" stroke="#111" stroke-width="0.18">⅝" GYP. BOARD</text>
<path d="M635.5 123.6 C628 122 628 112 634.6 108" fill="none" stroke="#444" stroke-width="0.5"/>
<text x="636.00" y="134.34" font-size="4.7" font-weight="normal" font-style="normal" fill="#111" text-anchor="start" textLength="41.00" lengthAdjust="spacingAndGlyphs" stroke="#111" stroke-width="0.18">½" SOUND BOARD</text>
<path d="M635.5 132.2 C625 132 620 115 621 96" fill="none" stroke="#444" stroke-width="0.5"/>
<path d="M635.5 132.8 C620 132 613 118 613 101" fill="none" stroke="#444" stroke-width="0.5"/>
<rect x="610.40" y="145.10" width="126.10" height="25.50" fill="none" stroke="#333" stroke-width="0.9"/>
<text x="612.00" y="149.90" font-size="4.0" font-weight="bold" font-style="normal" fill="#1a1a1a" text-anchor="start" textLength="10.00" lengthAdjust="spacingAndGlyphs">NOTE:</text>
<line x1="612.00" y1="150.50" x2="622.00" y2="150.50" stroke="#333" stroke-width="0.4"/>
<text x="612.00" y="156.05" font-size="5.0" font-weight="bold" font-style="normal" fill="#1a1a1a" text-anchor="start" textLength="117.00" lengthAdjust="spacingAndGlyphs" stroke="#1a1a1a" stroke-width="0.12">STRAPPING SHALL BE INSTALLED DURING PRODUCTIONS OF</text>
<text x="612.00" y="161.40" font-size="5.0" font-weight="bold" font-style="normal" fill="#1a1a1a" text-anchor="start" textLength="120.00" lengthAdjust="spacingAndGlyphs" stroke="#1a1a1a" stroke-width="0.12">MODULAR. USE IN CONJUNCTION WITH STRAP PA28 (WRAPPED</text>
<text x="612.00" y="166.75" font-size="5.0" font-weight="bold" font-style="normal" fill="#1a1a1a" text-anchor="start" textLength="57.00" lengthAdjust="spacingAndGlyphs" stroke="#1a1a1a" stroke-width="0.12">AROUND DOUBLE RIM JOIST).</text>
<ellipse cx="616.70" cy="189.20" rx="7.9" ry="8.9" fill="none" stroke="#333" stroke-width="0.8"/>
<line x1="608.80" y1="189.20" x2="696.00" y2="189.20" stroke="#2a2a2a" stroke-width="0.9"/>
<text x="616.70" y="186.90" font-size="4.9" font-weight="bold" font-style="normal" fill="#222" text-anchor="middle">4</text>
<text x="616.70" y="194.60" font-size="4.9" font-weight="bold" font-style="normal" fill="#222" text-anchor="middle" textLength="6.20" lengthAdjust="spacingAndGlyphs">S-4</text>
<text x="627.70" y="188.30" font-size="9.35" fill="#1e1e1e" stroke="#1e1e1e" stroke-width="0.4" textLength="65.80" lengthAdjust="spacingAndGlyphs">STRAP DETAIL</text>
<text x="627.70" y="194.50" font-size="4.8" font-weight="bold" font-style="normal" fill="#222" text-anchor="start" textLength="32.00" lengthAdjust="spacingAndGlyphs" stroke="#222" stroke-width="0.12">SCALE: 3" = 1'-0"</text>
<text x="70.60" y="252.14" font-size="4.7" font-weight="normal" font-style="normal" fill="#111" text-anchor="start" textLength="25.60" lengthAdjust="spacingAndGlyphs" stroke="#111" stroke-width="0.18">CORRIDOR</text>
<path d="M63 247.8 C65 250.3 66.5 250 70 251" fill="none" stroke="#333" stroke-width="0.75"/>
<path d="M96.5 251 C98.5 253.5 100.1 253 103.7 254" fill="none" stroke="#333" stroke-width="0.75"/>
<rect x="47.00" y="264.30" width="22.30" height="3.70" fill="url(#ldots)" stroke="#2a2a2a" stroke-width="0.6"/>
<line x1="47.00" y1="264.30" x2="47.00" y2="277.50" stroke="#555" stroke-width="0.6"/>
<line x1="47.00" y1="288.90" x2="47.00" y2="305.00" stroke="#555" stroke-width="0.6"/>
<path d="M59.30 268.00L67.80 293.20M67.80 268.00L59.30 293.20" stroke="#888" stroke-width="0.45" fill="none"/>
<rect x="59.30" y="268.00" width="8.50" height="25.20" fill="none" stroke="#2a2a2a" stroke-width="0.6"/>
<rect x="47.00" y="293.20" width="22.30" height="4.20" fill="url(#diag)" stroke="#2a2a2a" stroke-width="0.6"/>
<rect x="47.00" y="297.40" width="22.30" height="3.80" fill="url(#ldots)" stroke="#2a2a2a" stroke-width="0.6"/>
<path d="M48.98 278.34 A2.80 2.85 0 0 0 44.20 280.35 A2.80 2.85 0 0 0 47.00 283.20 A2.80 2.85 0 0 1 49.80 286.05 A2.80 2.85 0 0 1 45.02 288.06" fill="none" stroke="#555" stroke-width="0.7"/>
<rect x="68.60" y="268.40" width="3.60" height="43.60" fill="url(#ldots)" stroke="#2a2a2a" stroke-width="0.6"/>
<path d="M72.00 269.00L95.20 279.40M95.20 269.00L72.00 279.40" stroke="#666" stroke-width="0.45" fill="none"/>
<rect x="72.00" y="269.00" width="23.20" height="10.40" fill="none" stroke="#2a2a2a" stroke-width="0.8"/>
<path d="M72.00 279.40L95.20 289.80M95.20 279.40L72.00 289.80" stroke="#666" stroke-width="0.45" fill="none"/>
<rect x="72.00" y="279.40" width="23.20" height="10.40" fill="none" stroke="#2a2a2a" stroke-width="0.8"/>
<line x1="72.00" y1="289.80" x2="72.00" y2="312.50" stroke="#555" stroke-width="0.6"/>
<rect x="95.00" y="270.00" width="1.60" height="19.50" fill="#111"/>
<rect x="96.30" y="268.60" width="2.40" height="43.90" fill="url(#dots)" stroke="#2a2a2a" stroke-width="0.6"/>
<line x1="72.00" y1="312.50" x2="76.30" y2="312.50" stroke="#666" stroke-width="0.6"/>
<line x1="87.70" y1="312.50" x2="95.00" y2="312.50" stroke="#666" stroke-width="0.6"/>
<path d="M81.16 310.52 A2.85 2.80 0 1 0 79.15 315.30 C81.15 315.30 82.85 309.70 84.85 309.70 A2.85 2.80 0 1 1 82.84 314.48" fill="none" stroke="#555" stroke-width="0.7"/>
<text x="116.00" y="267.04" font-size="4.7" font-weight="normal" font-style="normal" fill="#111" text-anchor="start" textLength="57.00" lengthAdjust="spacingAndGlyphs" stroke="#111" stroke-width="0.18">(2) TWO 2x4's FOR STRAP</text>
<path d="M115 265 C107 265 101 266 97 270" fill="none" stroke="#444" stroke-width="0.5"/>
<text x="116.00" y="274.94" font-size="4.7" font-weight="normal" font-style="normal" fill="#111" text-anchor="start" textLength="59.00" lengthAdjust="spacingAndGlyphs" stroke="#111" stroke-width="0.18">SIMPSON STAE2S - EXTEND</text>
<line x1="137.13" y1="275.79" x2="153.63" y2="275.79" stroke="#333" stroke-width="0.45"/>
<text x="116.00" y="279.94" font-size="4.7" font-weight="normal" font-style="normal" fill="#111" text-anchor="start" textLength="57.50" lengthAdjust="spacingAndGlyphs" stroke="#111" stroke-width="0.18">TO BOTTOM OF RIM JOIST</text>
<text x="116.00" y="284.94" font-size="4.7" font-weight="normal" font-style="normal" fill="#111" text-anchor="start" textLength="47.00" lengthAdjust="spacingAndGlyphs" stroke="#111" stroke-width="0.18">(INSTALLED DURING</text>
<text x="116.00" y="289.94" font-size="4.7" font-weight="normal" font-style="normal" fill="#111" text-anchor="start" textLength="34.00" lengthAdjust="spacingAndGlyphs" stroke="#111" stroke-width="0.18">FABRICATION)</text>
<path d="M115 273 C106 273 100 275 96.5 279" fill="none" stroke="#444" stroke-width="0.5"/>
<text x="116.00" y="298.04" font-size="4.7" font-weight="normal" font-style="normal" fill="#111" text-anchor="start" textLength="24.50" lengthAdjust="spacingAndGlyphs" stroke="#111" stroke-width="0.18">SHEATHING</text>
<path d="M115 296 C106 296 101 298 98.5 302" fill="none" stroke="#444" stroke-width="0.5"/>
<text x="66.00" y="325.94" font-size="4.7" font-weight="normal" font-style="normal" fill="#111" text-anchor="start" textLength="37.00" lengthAdjust="spacingAndGlyphs" stroke="#111" stroke-width="0.18">⅝" GYP. BOARD</text>
<path d="M65.5 323.8 C58 322 58 311 68.8 307" fill="none" stroke="#444" stroke-width="0.5"/>
<text x="66.00" y="333.94" font-size="4.7" font-weight="normal" font-style="normal" fill="#111" text-anchor="start" textLength="41.00" lengthAdjust="spacingAndGlyphs" stroke="#111" stroke-width="0.18">½" SOUND BOARD</text>
<path d="M65.5 331.8 C55 332 50 318 53 296" fill="none" stroke="#444" stroke-width="0.5"/>
<path d="M65.5 332.4 C52 332 47 318 47.5 301" fill="none" stroke="#444" stroke-width="0.5"/>
<rect x="44.20" y="345.10" width="126.60" height="25.50" fill="none" stroke="#333" stroke-width="0.9"/>
<text x="45.80" y="349.90" font-size="4.0" font-weight="bold" font-style="normal" fill="#1a1a1a" text-anchor="start" textLength="10.00" lengthAdjust="spacingAndGlyphs">NOTE:</text>
<line x1="45.80" y1="350.50" x2="55.80" y2="350.50" stroke="#333" stroke-width="0.4"/>
<text x="45.80" y="356.05" font-size="5.0" font-weight="bold" font-style="normal" fill="#1a1a1a" text-anchor="start" textLength="116.00" lengthAdjust="spacingAndGlyphs" stroke="#1a1a1a" stroke-width="0.12">STRAPPING SHALL BE INSTALLED DURING PRODUCTIONS OF</text>
<text x="45.80" y="361.40" font-size="5.0" font-weight="bold" font-style="normal" fill="#1a1a1a" text-anchor="start" textLength="119.00" lengthAdjust="spacingAndGlyphs" stroke="#1a1a1a" stroke-width="0.12">MODULAR. USE IN CONJUNCTION WITH STRAP PA28 (WRAPPED</text>
<text x="45.80" y="366.75" font-size="5.0" font-weight="bold" font-style="normal" fill="#1a1a1a" text-anchor="start" textLength="54.00" lengthAdjust="spacingAndGlyphs" stroke="#1a1a1a" stroke-width="0.12">AROUND DOUBLE RIM JOIST).</text>
<ellipse cx="50.80" cy="389.50" rx="7.9" ry="8.9" fill="none" stroke="#333" stroke-width="0.8"/>
<line x1="42.90" y1="389.50" x2="130.10" y2="389.50" stroke="#2a2a2a" stroke-width="0.9"/>
<text x="50.80" y="387.20" font-size="4.9" font-weight="bold" font-style="normal" fill="#222" text-anchor="middle">5</text>
<text x="50.80" y="394.90" font-size="4.9" font-weight="bold" font-style="normal" fill="#222" text-anchor="middle" textLength="6.20" lengthAdjust="spacingAndGlyphs">S-4</text>
<text x="61.80" y="388.60" font-size="9.35" fill="#1e1e1e" stroke="#1e1e1e" stroke-width="0.4" textLength="65.80" lengthAdjust="spacingAndGlyphs">STRAP DETAIL</text>
<text x="61.80" y="394.80" font-size="4.8" font-weight="bold" font-style="normal" fill="#222" text-anchor="start" textLength="32.00" lengthAdjust="spacingAndGlyphs" stroke="#222" stroke-width="0.12">SCALE: 3" = 1'-0"</text>
<rect x="255.50" y="258.00" width="51.10" height="3.80" fill="url(#dots)" stroke="#2a2a2a" stroke-width="0.6"/>
<line x1="255.50" y1="253.00" x2="255.50" y2="265.20" stroke="#555" stroke-width="0.6"/>
<line x1="255.50" y1="281.30" x2="255.50" y2="297.40" stroke="#555" stroke-width="0.6"/>
<path d="M258.19 266.37 A3.80 4.00 0 0 0 251.70 269.20 A3.80 4.00 0 0 0 255.50 273.20 A3.80 4.00 0 0 1 259.30 277.20 A3.80 4.00 0 0 1 252.81 280.03" fill="none" stroke="#555" stroke-width="0.7"/>
<path d="M267.80 261.80L276.90 286.40M276.90 261.80L267.80 286.40" stroke="#888" stroke-width="0.45" fill="none"/>
<rect x="267.80" y="261.80" width="9.10" height="24.60" fill="none" stroke="#2a2a2a" stroke-width="0.6"/>
<rect x="255.50" y="286.40" width="21.40" height="4.40" fill="url(#ldots)" stroke="#2a2a2a" stroke-width="0.6"/>
<rect x="276.90" y="261.80" width="3.60" height="54.50" fill="url(#ldots)" stroke="#2a2a2a" stroke-width="0.6"/>
<path d="M281.00 262.00L302.80 272.00M302.80 262.00L281.00 272.00" stroke="#666" stroke-width="0.45" fill="none"/>
<rect x="281.00" y="262.00" width="21.80" height="10.00" fill="none" stroke="#2a2a2a" stroke-width="0.8"/>
<path d="M281.00 272.00L302.80 283.20M302.80 272.00L281.00 283.20" stroke="#666" stroke-width="0.45" fill="none"/>
<rect x="281.00" y="272.00" width="21.80" height="11.20" fill="none" stroke="#2a2a2a" stroke-width="0.8"/>
<path d="M281.00 283.20L302.80 293.60M302.80 283.20L281.00 293.60" stroke="#666" stroke-width="0.45" fill="none"/>
<rect x="281.00" y="283.20" width="21.80" height="10.40" fill="none" stroke="#2a2a2a" stroke-width="0.8"/>
<line x1="281.00" y1="293.60" x2="281.00" y2="316.30" stroke="#555" stroke-width="0.6"/>
<rect x="302.80" y="258.00" width="3.80" height="58.30" fill="url(#dots)" stroke="#2a2a2a" stroke-width="0.6"/>
<rect x="306.60" y="270.00" width="1.60" height="15.00" fill="#111"/>
<line x1="267.80" y1="316.30" x2="283.90" y2="316.30" stroke="#777" stroke-width="0.6"/>
<line x1="298.00" y1="316.30" x2="316.00" y2="316.30" stroke="#777" stroke-width="0.6"/>
<path d="M289.97 313.65 A3.50 3.75 0 1 0 287.50 320.05 C289.95 320.05 292.05 312.55 294.50 312.55 A3.50 3.75 0 1 1 292.03 318.95" fill="none" stroke="#555" stroke-width="0.7"/>
<text x="324.50" y="262.24" font-size="4.7" font-weight="normal" font-style="normal" fill="#111" text-anchor="start" textLength="25.00" lengthAdjust="spacingAndGlyphs" stroke="#111" stroke-width="0.18">SHEATHING</text>
<path d="M323.5 260.1 C316 259 309 259 306.6 261" fill="none" stroke="#444" stroke-width="0.5"/>
<text x="324.50" y="277.44" font-size="4.7" font-weight="normal" font-style="normal" fill="#111" text-anchor="start" textLength="40.00" lengthAdjust="spacingAndGlyphs" stroke="#111" stroke-width="0.18">SIMPSON STCHEUR</text>
<line x1="344.62" y1="278.29" x2="364.50" y2="278.29" stroke="#333" stroke-width="0.45"/>
<text x="324.50" y="282.64" font-size="4.7" font-weight="normal" font-style="normal" fill="#111" text-anchor="start" textLength="49.00" lengthAdjust="spacingAndGlyphs" stroke="#111" stroke-width="0.18">(INSTALLED AT SITE -</text>
<text x="324.50" y="287.84" font-size="4.7" font-weight="normal" font-style="normal" fill="#111" text-anchor="start" textLength="44.00" lengthAdjust="spacingAndGlyphs" stroke="#111" stroke-width="0.18">SET IN FOUNDATION)</text>
<path d="M323.5 275.3 C316 275 311 276 308.2 278" fill="none" stroke="#444" stroke-width="0.5"/>
<text x="324.50" y="298.54" font-size="4.7" font-weight="normal" font-style="normal" fill="#111" text-anchor="start" textLength="46.00" lengthAdjust="spacingAndGlyphs" stroke="#111" stroke-width="0.18">(3) THREE 2x4's FOR</text>
<text x="324.50" y="303.74" font-size="4.7" font-weight="normal" font-style="normal" fill="#111" text-anchor="start" textLength="14.00" lengthAdjust="spacingAndGlyphs" stroke="#111" stroke-width="0.18">STRAP</text>
<path d="M323.5 296.4 C314 296 307 293 302 289" fill="none" stroke="#444" stroke-width="0.5"/>
<text x="245.10" y="308.04" font-size="4.7" font-weight="normal" font-style="normal" fill="#111" text-anchor="start" textLength="19.00" lengthAdjust="spacingAndGlyphs" stroke="#111" stroke-width="0.18">⅝" GYP.</text>
<text x="245.10" y="313.14" font-size="4.7" font-weight="normal" font-style="normal" fill="#111" text-anchor="start" textLength="15.00" lengthAdjust="spacingAndGlyphs" stroke="#111" stroke-width="0.18">BOARD</text>
<path d="M264 306 C271 306 276 300 274 292" fill="none" stroke="#444" stroke-width="0.5"/>
<path d="M262 311 C271 311 276 306 277 300" fill="none" stroke="#444" stroke-width="0.5"/>
<rect x="244.70" y="350.80" width="117.60" height="19.80" fill="none" stroke="#333" stroke-width="0.9"/>
<text x="246.30" y="355.60" font-size="4.0" font-weight="bold" font-style="normal" fill="#1a1a1a" text-anchor="start" textLength="10.00" lengthAdjust="spacingAndGlyphs">NOTE:</text>
<line x1="246.30" y1="356.20" x2="256.30" y2="356.20" stroke="#333" stroke-width="0.4"/>
<text x="246.30" y="361.75" font-size="5.0" font-weight="bold" font-style="normal" fill="#1a1a1a" text-anchor="start" textLength="112.00" lengthAdjust="spacingAndGlyphs" stroke="#1a1a1a" stroke-width="0.12">STRAPPING OCCURS AT CORNERS ONLY, COORDINATE WITH</text>
<text x="246.30" y="367.10" font-size="5.0" font-weight="bold" font-style="normal" fill="#1a1a1a" text-anchor="start" textLength="106.00" lengthAdjust="spacingAndGlyphs" stroke="#1a1a1a" stroke-width="0.12">FOUNDATION PLAN AND ANCHOR SCHEDULE (TAG No. 5)</text>
<ellipse cx="252.50" cy="389.50" rx="7.9" ry="8.9" fill="none" stroke="#333" stroke-width="0.8"/>
<line x1="244.60" y1="389.50" x2="331.80" y2="389.50" stroke="#2a2a2a" stroke-width="0.9"/>
<text x="252.50" y="387.20" font-size="4.9" font-weight="bold" font-style="normal" fill="#222" text-anchor="middle">6</text>
<text x="252.50" y="394.90" font-size="4.9" font-weight="bold" font-style="normal" fill="#222" text-anchor="middle" textLength="6.20" lengthAdjust="spacingAndGlyphs">S-4</text>
<text x="263.50" y="388.60" font-size="9.35" fill="#1e1e1e" stroke="#1e1e1e" stroke-width="0.4" textLength="65.80" lengthAdjust="spacingAndGlyphs">STRAP DETAIL</text>
<text x="263.50" y="394.80" font-size="4.8" font-weight="bold" font-style="normal" fill="#222" text-anchor="start" textLength="32.00" lengthAdjust="spacingAndGlyphs" stroke="#222" stroke-width="0.12">SCALE: 3" = 1'-0"</text>
<rect x="468.80" y="276.60" width="48.60" height="3.80" fill="#c4c4c4"/>
<rect x="468.80" y="276.60" width="48.60" height="3.80" fill="none" stroke="#555" stroke-width="0.55"/>
<rect x="486.50" y="275.60" width="12.90" height="1.40" fill="#111"/>
<path d="M483.30 280.40L493.00 305.30M493.00 280.40L483.30 305.30" stroke="#666" stroke-width="0.45" fill="none"/>
<rect x="483.30" y="280.40" width="9.70" height="24.90" fill="none" stroke="#2a2a2a" stroke-width="0.8"/>
<path d="M493.00 280.40L502.80 305.30M502.80 280.40L493.00 305.30" stroke="#666" stroke-width="0.45" fill="none"/>
<rect x="493.00" y="280.40" width="9.80" height="24.90" fill="none" stroke="#2a2a2a" stroke-width="0.8"/>
<path d="M502.80 280.40L512.60 305.30M512.60 280.40L502.80 305.30" stroke="#999" stroke-width="0.45" fill="none"/>
<rect x="502.80" y="280.40" width="9.80" height="24.90" fill="none" stroke="#2a2a2a" stroke-width="0.5"/>
<rect x="468.80" y="305.30" width="48.60" height="3.70" fill="url(#dots)" stroke="#2a2a2a" stroke-width="0.6"/>
<rect x="468.80" y="309.00" width="48.60" height="3.50" fill="#d0d0d0"/>
<rect x="468.80" y="309.00" width="48.60" height="3.50" fill="none" stroke="#555" stroke-width="0.55"/>
<path d="M470.72 288.75 A3.00 3.08 0 0 0 465.60 290.93 A3.00 3.08 0 0 0 468.60 294.00 A3.00 3.08 0 0 1 471.60 297.07 A3.00 3.08 0 0 1 466.48 299.25" fill="none" stroke="#555" stroke-width="0.7"/>
<path d="M519.52 288.75 A3.00 3.08 0 0 0 514.40 290.93 A3.00 3.08 0 0 0 517.40 294.00 A3.00 3.08 0 0 1 520.40 297.07 A3.00 3.08 0 0 1 515.28 299.25" fill="none" stroke="#555" stroke-width="0.7"/>
<line x1="468.60" y1="280.40" x2="468.60" y2="287.80" stroke="#777" stroke-width="0.5"/>
<line x1="468.60" y1="300.20" x2="468.60" y2="305.30" stroke="#777" stroke-width="0.5"/>
<line x1="517.40" y1="280.40" x2="517.40" y2="287.80" stroke="#777" stroke-width="0.5"/>
<line x1="517.40" y1="300.20" x2="517.40" y2="305.30" stroke="#777" stroke-width="0.5"/>
<text x="432.30" y="250.04" font-size="4.7" font-weight="normal" font-style="normal" fill="#111" text-anchor="start" textLength="48.00" lengthAdjust="spacingAndGlyphs" stroke="#111" stroke-width="0.18">SIMPSON STCHEUR OR</text>
<line x1="452.71" y1="250.89" x2="472.88" y2="250.89" stroke="#333" stroke-width="0.45"/>
<text x="432.30" y="255.09" font-size="4.7" font-weight="normal" font-style="normal" fill="#111" text-anchor="start" textLength="54.00" lengthAdjust="spacingAndGlyphs" stroke="#111" stroke-width="0.18">STHD14RJ AS NOTED ON</text>
<line x1="432.30" y1="255.94" x2="454.75" y2="255.94" stroke="#333" stroke-width="0.45"/>
<text x="432.30" y="260.14" font-size="4.7" font-weight="normal" font-style="normal" fill="#111" text-anchor="start" textLength="42.00" lengthAdjust="spacingAndGlyphs" stroke="#111" stroke-width="0.18">FOUNDATION PLAN</text>
<text x="432.30" y="265.19" font-size="4.7" font-weight="normal" font-style="normal" fill="#111" text-anchor="start" textLength="48.00" lengthAdjust="spacingAndGlyphs" stroke="#111" stroke-width="0.18">(INSTALLED AT SITE -</text>
<text x="432.30" y="270.24" font-size="4.7" font-weight="normal" font-style="normal" fill="#111" text-anchor="start" textLength="45.00" lengthAdjust="spacingAndGlyphs" stroke="#111" stroke-width="0.18">SET IN FOUNDATION)</text>
<path d="M478 268.3 C485 268.3 489 271 491 275.5" fill="none" stroke="#444" stroke-width="0.5"/>
<text x="515.50" y="271.74" font-size="4.7" font-weight="normal" font-style="normal" fill="#111" text-anchor="start" textLength="25.00" lengthAdjust="spacingAndGlyphs" stroke="#111" stroke-width="0.18">SHEATHING</text>
<path d="M514.5 269.6 C508 270 506 273 505 276.6" fill="none" stroke="#444" stroke-width="0.5"/>
<text x="452.10" y="320.34" font-size="4.7" font-weight="normal" font-style="normal" fill="#111" text-anchor="start" textLength="24.00" lengthAdjust="spacingAndGlyphs" stroke="#111" stroke-width="0.18">(2) TWO 2x4's</text>
<text x="452.10" y="325.64" font-size="4.7" font-weight="normal" font-style="normal" fill="#111" text-anchor="start" textLength="24.00" lengthAdjust="spacingAndGlyphs" stroke="#111" stroke-width="0.18">FOR STRAP</text>
<path d="M477 323.5 C488 323 494 318 495 309" fill="none" stroke="#444" stroke-width="0.5"/>
<text x="452.10" y="333.94" font-size="4.7" font-weight="normal" font-style="normal" fill="#111" text-anchor="start" textLength="25.00" lengthAdjust="spacingAndGlyphs" stroke="#111" stroke-width="0.18">SHEATHING</text>
<path d="M478 331.8 C492 331 499 322 499 311" fill="none" stroke="#444" stroke-width="0.5"/>
<text x="452.10" y="341.14" font-size="4.7" font-weight="normal" font-style="normal" fill="#111" text-anchor="start" textLength="28.00" lengthAdjust="spacingAndGlyphs" stroke="#111" stroke-width="0.18">GYP. BOARD</text>
<path d="M481 339 C496 338 503 326 503.5 312.5" fill="none" stroke="#444" stroke-width="0.5"/>
<text x="515.50" y="320.34" font-size="4.7" font-weight="normal" font-style="normal" fill="#111" text-anchor="start" textLength="31.00" lengthAdjust="spacingAndGlyphs" stroke="#111" stroke-width="0.18">FRAMING FOR</text>
<text x="515.50" y="325.64" font-size="4.7" font-weight="normal" font-style="normal" fill="#111" text-anchor="start" textLength="29.00" lengthAdjust="spacingAndGlyphs" stroke="#111" stroke-width="0.18">WINDOW R.O.</text>
<path d="M514.5 318.2 C510 318 508 314 507.5 309" fill="none" stroke="#444" stroke-width="0.5"/>
<rect x="431.70" y="350.80" width="124.00" height="19.80" fill="none" stroke="#333" stroke-width="0.9"/>
<text x="433.30" y="355.60" font-size="4.0" font-weight="bold" font-style="normal" fill="#1a1a1a" text-anchor="start" textLength="10.00" lengthAdjust="spacingAndGlyphs">NOTE:</text>
<line x1="433.30" y1="356.20" x2="443.30" y2="356.20" stroke="#333" stroke-width="0.4"/>
<text x="433.30" y="361.75" font-size="5.0" font-weight="bold" font-style="normal" fill="#1a1a1a" text-anchor="start" textLength="113.00" lengthAdjust="spacingAndGlyphs" stroke="#1a1a1a" stroke-width="0.12">STRAPPING OCCURS AT WINDOWS ONLY, COORDINATE WITH</text>
<text x="433.30" y="367.10" font-size="5.0" font-weight="bold" font-style="normal" fill="#1a1a1a" text-anchor="start" textLength="120.00" lengthAdjust="spacingAndGlyphs" stroke="#1a1a1a" stroke-width="0.12">FOUNDATION PLAN AND ANCHOR SCHEDULE (TAG No. 3 AND 5)</text>
<ellipse cx="438.90" cy="389.50" rx="7.9" ry="8.9" fill="none" stroke="#333" stroke-width="0.8"/>
<line x1="431.00" y1="389.50" x2="518.20" y2="389.50" stroke="#2a2a2a" stroke-width="0.9"/>
<text x="438.90" y="387.20" font-size="4.9" font-weight="bold" font-style="normal" fill="#222" text-anchor="middle">7</text>
<text x="438.90" y="394.90" font-size="4.9" font-weight="bold" font-style="normal" fill="#222" text-anchor="middle" textLength="6.20" lengthAdjust="spacingAndGlyphs">S-4</text>
<text x="449.90" y="388.60" font-size="9.35" fill="#1e1e1e" stroke="#1e1e1e" stroke-width="0.4" textLength="65.80" lengthAdjust="spacingAndGlyphs">STRAP DETAIL</text>
<text x="449.90" y="394.80" font-size="4.8" font-weight="bold" font-style="normal" fill="#222" text-anchor="start" textLength="32.00" lengthAdjust="spacingAndGlyphs" stroke="#222" stroke-width="0.12">SCALE: 3" = 1'-0"</text>
<rect x="655.20" y="277.00" width="42.60" height="3.40" fill="#c4c4c4"/>
<rect x="655.20" y="277.00" width="42.60" height="3.40" fill="none" stroke="#555" stroke-width="0.55"/>
<rect x="667.50" y="275.90" width="12.30" height="1.40" fill="#111"/>
<path d="M655.20 280.40L664.70 305.30M664.70 280.40L655.20 305.30" stroke="#999" stroke-width="0.45" fill="none"/>
<rect x="655.20" y="280.40" width="9.50" height="24.90" fill="none" stroke="#2a2a2a" stroke-width="0.5"/>
<path d="M664.70 280.40L674.10 305.30M674.10 280.40L664.70 305.30" stroke="#666" stroke-width="0.45" fill="none"/>
<rect x="664.70" y="280.40" width="9.40" height="24.90" fill="none" stroke="#2a2a2a" stroke-width="0.8"/>
<path d="M674.10 280.40L683.60 305.30M683.60 280.40L674.10 305.30" stroke="#666" stroke-width="0.45" fill="none"/>
<rect x="674.10" y="280.40" width="9.50" height="24.90" fill="none" stroke="#2a2a2a" stroke-width="0.8"/>
<rect x="655.20" y="305.30" width="42.60" height="3.70" fill="url(#dots)" stroke="#2a2a2a" stroke-width="0.6"/>
<rect x="655.20" y="309.00" width="42.60" height="3.50" fill="#d0d0d0"/>
<rect x="655.20" y="309.00" width="42.60" height="3.50" fill="none" stroke="#555" stroke-width="0.55"/>
<path d="M699.62 288.75 A3.00 3.08 0 0 0 694.50 290.93 A3.00 3.08 0 0 0 697.50 294.00 A3.00 3.08 0 0 1 700.50 297.07 A3.00 3.08 0 0 1 695.38 299.25" fill="none" stroke="#555" stroke-width="0.7"/>
<line x1="697.50" y1="280.40" x2="697.50" y2="287.80" stroke="#777" stroke-width="0.5"/>
<line x1="697.50" y1="300.20" x2="697.50" y2="305.30" stroke="#777" stroke-width="0.5"/>
<text x="612.70" y="250.04" font-size="4.7" font-weight="normal" font-style="normal" fill="#111" text-anchor="start" textLength="48.00" lengthAdjust="spacingAndGlyphs" stroke="#111" stroke-width="0.18">SIMPSON STCHEUR OR</text>
<line x1="633.11" y1="250.89" x2="653.28" y2="250.89" stroke="#333" stroke-width="0.45"/>
<text x="612.70" y="255.09" font-size="4.7" font-weight="normal" font-style="normal" fill="#111" text-anchor="start" textLength="54.00" lengthAdjust="spacingAndGlyphs" stroke="#111" stroke-width="0.18">STHD14RJ AS NOTED ON</text>
<line x1="612.70" y1="255.94" x2="635.15" y2="255.94" stroke="#333" stroke-width="0.45"/>
<text x="612.70" y="260.14" font-size="4.7" font-weight="normal" font-style="normal" fill="#111" text-anchor="start" textLength="42.00" lengthAdjust="spacingAndGlyphs" stroke="#111" stroke-width="0.18">FOUNDATION PLAN</text>
<text x="612.70" y="265.19" font-size="4.7" font-weight="normal" font-style="normal" fill="#111" text-anchor="start" textLength="48.00" lengthAdjust="spacingAndGlyphs" stroke="#111" stroke-width="0.18">(INSTALLED AT SITE -</text>
<text x="612.70" y="270.24" font-size="4.7" font-weight="normal" font-style="normal" fill="#111" text-anchor="start" textLength="45.00" lengthAdjust="spacingAndGlyphs" stroke="#111" stroke-width="0.18">SET IN FOUNDATION)</text>
<path d="M658.5 268.3 C665 268.3 669 271 671 275.5" fill="none" stroke="#444" stroke-width="0.5"/>
<text x="695.90" y="271.74" font-size="4.7" font-weight="normal" font-style="normal" fill="#111" text-anchor="start" textLength="25.00" lengthAdjust="spacingAndGlyphs" stroke="#111" stroke-width="0.18">SHEATHING</text>
<path d="M694.9 269.6 C688 270 686 273 685 277" fill="none" stroke="#444" stroke-width="0.5"/>
<text x="612.70" y="320.34" font-size="4.7" font-weight="normal" font-style="normal" fill="#111" text-anchor="start" textLength="31.00" lengthAdjust="spacingAndGlyphs" stroke="#111" stroke-width="0.18">FRAMING FOR</text>
<text x="612.70" y="325.64" font-size="4.7" font-weight="normal" font-style="normal" fill="#111" text-anchor="start" textLength="24.00" lengthAdjust="spacingAndGlyphs" stroke="#111" stroke-width="0.18">DOOR R.O.</text>
<path d="M637 323.5 C648 323 654 318 655.2 311" fill="none" stroke="#444" stroke-width="0.5"/>
<text x="694.90" y="320.34" font-size="4.7" font-weight="normal" font-style="normal" fill="#111" text-anchor="start" textLength="24.00" lengthAdjust="spacingAndGlyphs" stroke="#111" stroke-width="0.18">(2) TWO 2x4's</text>
<text x="694.90" y="325.64" font-size="4.7" font-weight="normal" font-style="normal" fill="#111" text-anchor="start" textLength="24.00" lengthAdjust="spacingAndGlyphs" stroke="#111" stroke-width="0.18">FOR STRAP</text>
<path d="M694 318.2 C685 318 681 314 680 309" fill="none" stroke="#444" stroke-width="0.5"/>
<text x="694.90" y="333.94" font-size="4.7" font-weight="normal" font-style="normal" fill="#111" text-anchor="start" textLength="25.00" lengthAdjust="spacingAndGlyphs" stroke="#111" stroke-width="0.18">SHEATHING</text>
<path d="M694 331.8 C675 331 666 322 664 310" fill="none" stroke="#444" stroke-width="0.5"/>
<text x="694.90" y="341.14" font-size="4.7" font-weight="normal" font-style="normal" fill="#111" text-anchor="start" textLength="28.00" lengthAdjust="spacingAndGlyphs" stroke="#111" stroke-width="0.18">GYP. BOARD</text>
<path d="M694 339 C670 339 659 326 658 312.5" fill="none" stroke="#444" stroke-width="0.5"/>
<rect x="610.40" y="350.80" width="125.60" height="19.80" fill="none" stroke="#333" stroke-width="0.9"/>
<text x="612.00" y="355.60" font-size="4.0" font-weight="bold" font-style="normal" fill="#1a1a1a" text-anchor="start" textLength="10.00" lengthAdjust="spacingAndGlyphs">NOTE:</text>
<line x1="612.00" y1="356.20" x2="622.00" y2="356.20" stroke="#333" stroke-width="0.4"/>
<text x="612.00" y="361.75" font-size="5.0" font-weight="bold" font-style="normal" fill="#1a1a1a" text-anchor="start" textLength="108.00" lengthAdjust="spacingAndGlyphs" stroke="#1a1a1a" stroke-width="0.12">STRAPPING OCCURS AT DOORS ONLY, COORDINATE WITH</text>
<text x="612.00" y="367.10" font-size="5.0" font-weight="bold" font-style="normal" fill="#1a1a1a" text-anchor="start" textLength="120.00" lengthAdjust="spacingAndGlyphs" stroke="#1a1a1a" stroke-width="0.12">FOUNDATION PLAN AND ANCHOR SCHEDULE (TAG No. 3 AND 5)</text>
<ellipse cx="618.00" cy="389.50" rx="7.9" ry="8.9" fill="none" stroke="#333" stroke-width="0.8"/>
<line x1="610.10" y1="389.50" x2="697.30" y2="389.50" stroke="#2a2a2a" stroke-width="0.9"/>
<text x="618.00" y="387.20" font-size="4.9" font-weight="bold" font-style="normal" fill="#222" text-anchor="middle">8</text>
<text x="618.00" y="394.90" font-size="4.9" font-weight="bold" font-style="normal" fill="#222" text-anchor="middle" textLength="6.20" lengthAdjust="spacingAndGlyphs">S-4</text>
<text x="629.00" y="388.60" font-size="9.35" fill="#1e1e1e" stroke="#1e1e1e" stroke-width="0.4" textLength="65.80" lengthAdjust="spacingAndGlyphs">STRAP DETAIL</text>
<text x="629.00" y="394.80" font-size="4.8" font-weight="bold" font-style="normal" fill="#222" text-anchor="start" textLength="32.00" lengthAdjust="spacingAndGlyphs" stroke="#222" stroke-width="0.12">SCALE: 3" = 1'-0"</text>
<rect x="70.40" y="460.80" width="38.10" height="4.40" fill="url(#ldots)" stroke="#2a2a2a" stroke-width="0.6"/>
<path d="M90.10 465.00L99.00 490.10M99.00 465.00L90.10 490.10" stroke="#666" stroke-width="0.45" fill="none"/>
<rect x="90.10" y="465.00" width="8.90" height="25.10" fill="none" stroke="#2a2a2a" stroke-width="0.8"/>
<path d="M99.00 465.00L108.40 490.10M108.40 465.00L99.00 490.10" stroke="#666" stroke-width="0.45" fill="none"/>
<rect x="99.00" y="465.00" width="9.40" height="25.10" fill="none" stroke="#2a2a2a" stroke-width="0.8"/>
<line x1="70.60" y1="465.00" x2="70.60" y2="470.60" stroke="#777" stroke-width="0.5"/>
<line x1="70.60" y1="482.00" x2="70.60" y2="490.00" stroke="#777" stroke-width="0.5"/>
<path d="M72.61 471.44 A2.85 2.85 0 0 0 67.75 473.45 A2.85 2.85 0 0 0 70.60 476.30 A2.85 2.85 0 0 1 73.45 479.15 A2.85 2.85 0 0 1 68.59 481.16" fill="none" stroke="#555" stroke-width="0.7"/>
<rect x="70.40" y="489.80" width="38.10" height="3.30" fill="url(#ldots)" stroke="#2a2a2a" stroke-width="0.6"/>
<rect x="91.40" y="489.40" width="15.20" height="1.60" fill="#111"/>
<text x="50.40" y="449.54" font-size="4.7" font-weight="normal" font-style="normal" fill="#111" text-anchor="start" textLength="27.00" lengthAdjust="spacingAndGlyphs" stroke="#111" stroke-width="0.18">GYP. BOARD</text>
<path d="M78 447.4 C84 448 88 452 88 460.2" fill="none" stroke="#444" stroke-width="0.5"/>
<text x="114.10" y="449.54" font-size="4.7" font-weight="normal" font-style="normal" fill="#111" text-anchor="start" textLength="27.00" lengthAdjust="spacingAndGlyphs" stroke="#111" stroke-width="0.18">(2) TWO 2x4's</text>
<text x="114.10" y="454.44" font-size="4.7" font-weight="normal" font-style="normal" fill="#111" text-anchor="start" textLength="25.00" lengthAdjust="spacingAndGlyphs" stroke="#111" stroke-width="0.18">FOR STRAP</text>
<path d="M113 447.4 C104 448 98 455 97 465" fill="none" stroke="#444" stroke-width="0.5"/>
<text x="124.50" y="480.14" font-size="4.7" font-weight="normal" font-style="normal" fill="#111" text-anchor="start" textLength="14.20" lengthAdjust="spacingAndGlyphs" stroke="#111" stroke-width="0.18">DOOR</text>
<path d="M117.9 474.5 C119.9 477.0 120.95 477.5 124 478.5" fill="none" stroke="#333" stroke-width="0.75"/>
<path d="M139 478.8 C141 481.3 143.3 480.8 147.6 481.8" fill="none" stroke="#333" stroke-width="0.75"/>
<text x="50.40" y="512.44" font-size="4.7" font-weight="normal" font-style="normal" fill="#111" text-anchor="start" textLength="24.50" lengthAdjust="spacingAndGlyphs" stroke="#111" stroke-width="0.18">SHEATHING</text>
<path d="M75 510.3 C83 510 88 505 88 493.3" fill="none" stroke="#444" stroke-width="0.5"/>
<text x="113.20" y="504.34" font-size="4.7" font-weight="normal" font-style="normal" fill="#111" text-anchor="start" textLength="59.00" lengthAdjust="spacingAndGlyphs" stroke="#111" stroke-width="0.18">SIMPSON STAE2S - EXTEND</text>
<line x1="134.33" y1="505.19" x2="150.83" y2="505.19" stroke="#333" stroke-width="0.45"/>
<text x="113.20" y="509.54" font-size="4.7" font-weight="normal" font-style="normal" fill="#111" text-anchor="start" textLength="57.50" lengthAdjust="spacingAndGlyphs" stroke="#111" stroke-width="0.18">TO BOTTOM OF RIM JOIST</text>
<text x="113.20" y="514.74" font-size="4.7" font-weight="normal" font-style="normal" fill="#111" text-anchor="start" textLength="47.00" lengthAdjust="spacingAndGlyphs" stroke="#111" stroke-width="0.18">(INSTALLED DURING</text>
<text x="113.20" y="519.94" font-size="4.7" font-weight="normal" font-style="normal" fill="#111" text-anchor="start" textLength="34.00" lengthAdjust="spacingAndGlyphs" stroke="#111" stroke-width="0.18">FABRICATION)</text>
<path d="M112.5 502.2 C104 502 100 498 99 491" fill="none" stroke="#444" stroke-width="0.5"/>
<rect x="44.20" y="524.10" width="126.60" height="25.50" fill="none" stroke="#333" stroke-width="0.9"/>
<text x="45.80" y="528.90" font-size="4.0" font-weight="bold" font-style="normal" fill="#1a1a1a" text-anchor="start" textLength="10.00" lengthAdjust="spacingAndGlyphs">NOTE:</text>
<line x1="45.80" y1="529.50" x2="55.80" y2="529.50" stroke="#333" stroke-width="0.4"/>
<text x="45.80" y="535.05" font-size="5.0" font-weight="bold" font-style="normal" fill="#1a1a1a" text-anchor="start" textLength="116.00" lengthAdjust="spacingAndGlyphs" stroke="#1a1a1a" stroke-width="0.12">STRAPPING SHALL BE INSTALLED DURING PRODUCTIONS OF</text>
<text x="45.80" y="540.40" font-size="5.0" font-weight="bold" font-style="normal" fill="#1a1a1a" text-anchor="start" textLength="116.00" lengthAdjust="spacingAndGlyphs" stroke="#1a1a1a" stroke-width="0.12">MODULAR. USE IN CONJUNCTION WITH STRAP (2) TWO PA28</text>
<text x="45.80" y="545.75" font-size="5.0" font-weight="bold" font-style="normal" fill="#1a1a1a" text-anchor="start" textLength="75.00" lengthAdjust="spacingAndGlyphs" stroke="#1a1a1a" stroke-width="0.12">(WRAPPED AROUND DOUBLE RIM JOIST).</text>
<ellipse cx="50.80" cy="568.00" rx="7.9" ry="8.9" fill="none" stroke="#333" stroke-width="0.8"/>
<line x1="42.90" y1="568.00" x2="130.10" y2="568.00" stroke="#2a2a2a" stroke-width="0.9"/>
<text x="50.80" y="565.70" font-size="4.9" font-weight="bold" font-style="normal" fill="#222" text-anchor="middle">9</text>
<text x="50.80" y="573.40" font-size="4.9" font-weight="bold" font-style="normal" fill="#222" text-anchor="middle" textLength="6.20" lengthAdjust="spacingAndGlyphs">S-4</text>
<text x="61.80" y="567.10" font-size="9.35" fill="#1e1e1e" stroke="#1e1e1e" stroke-width="0.4" textLength="65.80" lengthAdjust="spacingAndGlyphs">STRAP DETAIL</text>
<text x="61.80" y="573.30" font-size="4.8" font-weight="bold" font-style="normal" fill="#222" text-anchor="start" textLength="32.00" lengthAdjust="spacingAndGlyphs" stroke="#222" stroke-width="0.12">SCALE: 3" = 1'-0"</text>
<rect x="285.30" y="451.30" width="88.00" height="2.70" fill="url(#ldots)" stroke="#2a2a2a" stroke-width="0.6"/>
<path d="M290.00 454.00L311.30 465.30M311.30 454.00L290.00 465.30" stroke="#666" stroke-width="0.45" fill="none"/>
<rect x="290.00" y="454.00" width="21.30" height="11.30" fill="none" stroke="#2a2a2a" stroke-width="0.8"/>
<path d="M346.70 454.00L368.70 465.30M368.70 454.00L346.70 465.30" stroke="#666" stroke-width="0.45" fill="none"/>
<rect x="346.70" y="454.00" width="22.00" height="11.30" fill="none" stroke="#2a2a2a" stroke-width="0.8"/>
<rect x="285.30" y="465.30" width="29.00" height="4.00" fill="url(#ldots)" stroke="#2a2a2a" stroke-width="0.6"/>
<rect x="342.70" y="465.30" width="30.60" height="4.00" fill="url(#ldots)" stroke="#2a2a2a" stroke-width="0.6"/>
<path d="M287.12 454.14 A3.00 2.85 0 0 0 282.00 456.15 A3.00 2.85 0 0 0 285.00 459.00 A3.00 2.85 0 0 1 288.00 461.85 A3.00 2.85 0 0 1 282.88 463.86" fill="none" stroke="#555" stroke-width="0.7"/>
<path d="M375.42 454.14 A3.00 2.85 0 0 0 370.30 456.15 A3.00 2.85 0 0 0 373.30 459.00 A3.00 2.85 0 0 1 376.30 461.85 A3.00 2.85 0 0 1 371.18 463.86" fill="none" stroke="#555" stroke-width="0.7"/>
<path d="M314.70 454.00L325.30 479.30M325.30 454.00L314.70 479.30" stroke="#666" stroke-width="0.45" fill="none"/>
<rect x="314.70" y="454.00" width="10.60" height="25.30" fill="none" stroke="#2a2a2a" stroke-width="0.8"/>
<rect x="325.30" y="454.00" width="2.60" height="25.30" fill="url(#dots)" stroke="#2a2a2a" stroke-width="0.6"/>
<rect x="330.00" y="454.00" width="2.70" height="25.30" fill="url(#dots)" stroke="#2a2a2a" stroke-width="0.6"/>
<path d="M332.70 454.00L342.70 479.30M342.70 454.00L332.70 479.30" stroke="#666" stroke-width="0.45" fill="none"/>
<rect x="332.70" y="454.00" width="10.00" height="25.30" fill="none" stroke="#2a2a2a" stroke-width="0.8"/>
<rect x="342.70" y="454.00" width="3.00" height="25.30" fill="url(#dots)" stroke="#2a2a2a" stroke-width="0.6"/>
<line x1="314.00" y1="472.70" x2="343.00" y2="472.70" stroke="#444" stroke-width="0.6"/>
<path d="M324 480 A2.3 2.3 0 1 0 328.6 480" fill="none" stroke="#777" stroke-width="0.5"/>
<path d="M330 480 A2 2 0 1 0 334 480" fill="none" stroke="#777" stroke-width="0.5"/>
<line x1="312.00" y1="492.00" x2="312.00" y2="524.70" stroke="#333" stroke-width="0.7"/>
<path d="M315.30 492.00L324.70 524.70M324.70 492.00L315.30 524.70" stroke="#666" stroke-width="0.45" fill="none"/>
<rect x="315.30" y="492.00" width="9.40" height="32.70" fill="none" stroke="#2a2a2a" stroke-width="0.8"/>
<rect x="324.70" y="492.00" width="3.30" height="32.70" fill="url(#diag)" stroke="#2a2a2a" stroke-width="0.6"/>
<rect x="328.00" y="492.00" width="3.00" height="32.70" fill="url(#dots)" stroke="#2a2a2a" stroke-width="0.6"/>
<path d="M333.30 492.00L342.70 524.70M342.70 492.00L333.30 524.70" stroke="#666" stroke-width="0.45" fill="none"/>
<rect x="333.30" y="492.00" width="9.40" height="32.70" fill="none" stroke="#2a2a2a" stroke-width="0.8"/>
<rect x="342.70" y="492.00" width="4.00" height="32.70" fill="url(#dots)" stroke="#2a2a2a" stroke-width="0.6"/>
<rect x="312.00" y="507.00" width="3.30" height="17.70" fill="#fff"/>
<rect x="312.00" y="507.00" width="3.30" height="17.70" fill="none" stroke="#333" stroke-width="0.6"/>
<path d="M324 525 A2.3 2.3 0 1 0 328.6 525" fill="none" stroke="#777" stroke-width="0.5"/>
<path d="M330 525 A2 2 0 1 0 334 525" fill="none" stroke="#777" stroke-width="0.5"/>
<text x="243.20" y="445.74" font-size="4.7" font-weight="normal" font-style="normal" fill="#111" text-anchor="start" textLength="25.00" lengthAdjust="spacingAndGlyphs" stroke="#111" stroke-width="0.18">SHEATHING</text>
<path d="M268.5 443.6 C280 443 287 446 292 451.3" fill="none" stroke="#444" stroke-width="0.5"/>
<text x="244.20" y="484.74" font-size="4.7" font-weight="normal" font-style="normal" fill="#111" text-anchor="start" textLength="19.00" lengthAdjust="spacingAndGlyphs" stroke="#111" stroke-width="0.18">GYP. BD.</text>
<path d="M264 482.6 C280 482 290 478 294.5 469.3" fill="none" stroke="#444" stroke-width="0.5"/>
<text x="244.20" y="493.04" font-size="4.7" font-weight="normal" font-style="normal" fill="#111" text-anchor="start" textLength="47.00" lengthAdjust="spacingAndGlyphs" stroke="#111" stroke-width="0.18">SIMPSON SDS SCREWS</text>
<line x1="263.99" y1="493.89" x2="272.31" y2="493.89" stroke="#333" stroke-width="0.45"/>
<text x="244.20" y="497.94" font-size="4.7" font-weight="normal" font-style="normal" fill="#111" text-anchor="start" textLength="47.00" lengthAdjust="spacingAndGlyphs" stroke="#111" stroke-width="0.18">(INSTALLED AT SITE)</text>
<path d="M292 495.8 C305 494 313 484 314.5 472.7" fill="none" stroke="#444" stroke-width="0.5"/>
<text x="244.20" y="506.24" font-size="4.7" font-weight="normal" font-style="normal" fill="#111" text-anchor="start" textLength="36.00" lengthAdjust="spacingAndGlyphs" stroke="#111" stroke-width="0.18">GYP. BD. TO BE</text>
<text x="244.20" y="511.54" font-size="4.7" font-weight="normal" font-style="normal" fill="#111" text-anchor="start" textLength="44.00" lengthAdjust="spacingAndGlyphs" stroke="#111" stroke-width="0.18">INSTALLED AT SITE</text>
<path d="M289 509.4 C300 509 309 503 312 495" fill="none" stroke="#444" stroke-width="0.5"/>
<text x="244.20" y="520.04" font-size="4.7" font-weight="normal" font-style="normal" fill="#111" text-anchor="start" textLength="19.00" lengthAdjust="spacingAndGlyphs" stroke="#111" stroke-width="0.18">GYP. BD.</text>
<path d="M264 518 C285 520 300 518 312 514" fill="none" stroke="#444" stroke-width="0.5"/>
<ellipse cx="251.20" cy="563.60" rx="7.9" ry="8.9" fill="none" stroke="#333" stroke-width="0.8"/>
<line x1="243.30" y1="563.60" x2="333.60" y2="563.60" stroke="#2a2a2a" stroke-width="0.9"/>
<text x="251.20" y="561.30" font-size="4.9" font-weight="bold" font-style="normal" fill="#222" text-anchor="middle">10</text>
<text x="251.20" y="569.00" font-size="4.9" font-weight="bold" font-style="normal" fill="#222" text-anchor="middle" textLength="6.20" lengthAdjust="spacingAndGlyphs">S-4</text>
<text x="262.20" y="562.70" font-size="9.35" fill="#1e1e1e" stroke="#1e1e1e" stroke-width="0.4" textLength="68.90" lengthAdjust="spacingAndGlyphs">SCREW DETAIL</text>
<text x="262.20" y="568.90" font-size="4.8" font-weight="bold" font-style="normal" fill="#222" text-anchor="start" textLength="32.00" lengthAdjust="spacingAndGlyphs" stroke="#222" stroke-width="0.12">SCALE: 3" = 1'-0"</text>
</svg>
</body></html>
